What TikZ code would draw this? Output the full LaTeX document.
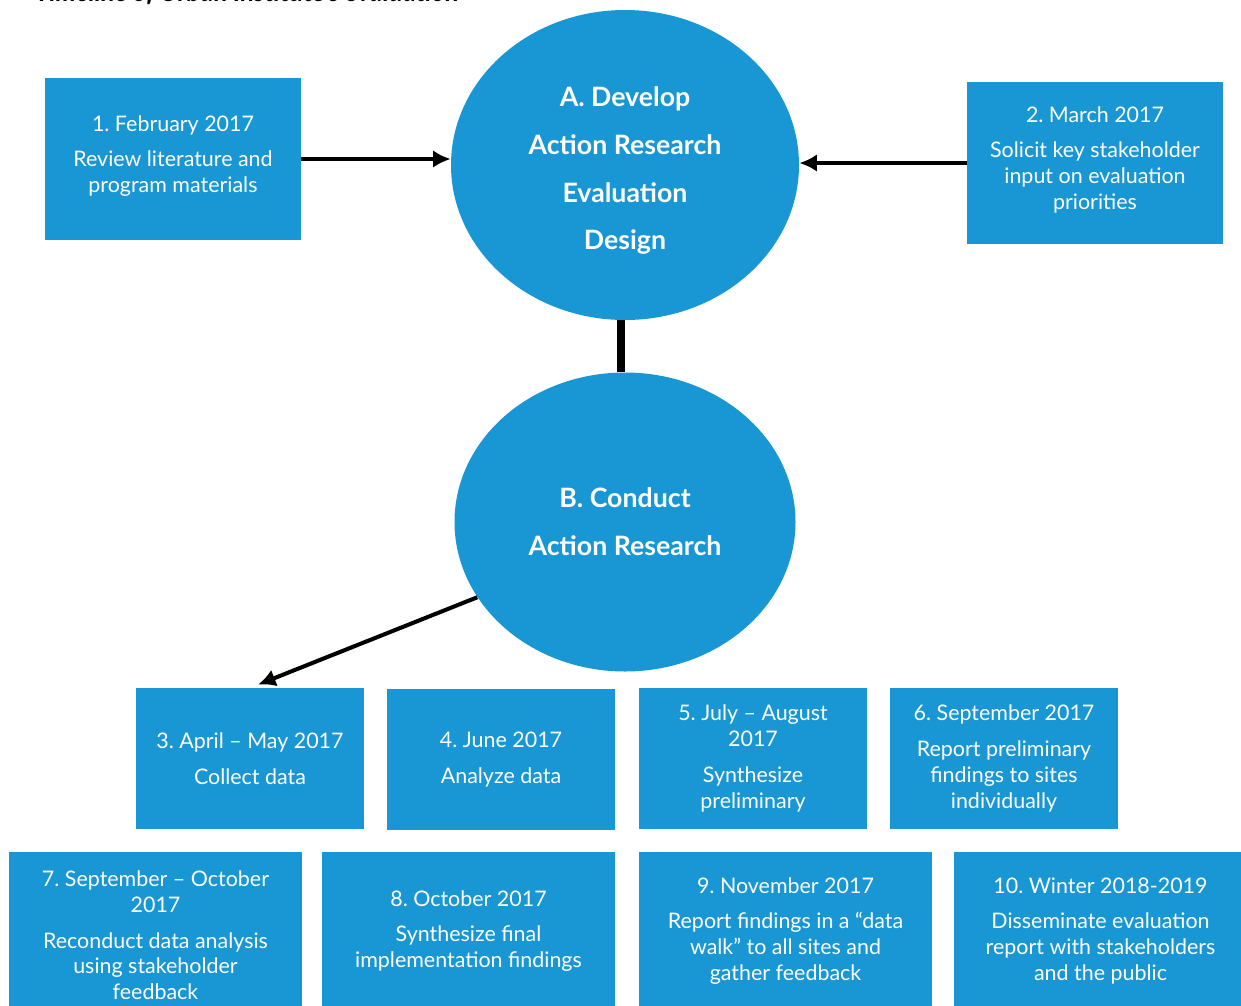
\documentclass[tikz,border=0pt]{standalone}
\usepackage{fontspec}
\setmainfont{Lato}
\frenchspacing
\usetikzlibrary{shapes,arrows.meta,positioning}
\definecolor{uiblue}{HTML}{1897D4}
\def \px {0.02cm}
\tikzstyle{stage} = [fill=uiblue,text=white,align=center,inner sep=0,font=\fontsize{12.2}{14.7}\selectfont]
\tikzstyle{toprow} = [stage,minimum width=256*\px,minimum height=162*\px]
\tikzstyle{midrow} = [stage,minimum width=228*\px,minimum height=141*\px]
\tikzstyle{lowrow} = [stage,minimum width=293*\px,minimum height=158*\px]
\tikzstyle{phase} = [ellipse,fill=uiblue,text=white,align=center,inner sep=0,font=\fontsize{15.2}{27.2}\selectfont\bfseries]
\tikzstyle{link} = [-{Latex[length=10pt,width=10pt]},line width=2.3pt]
\tikzstyle{joint} = [-,line width=4.5pt]

\begin{document}
\begin{tikzpicture}[x=\px,y=-\px]
      \useasboundingbox (0,0) rectangle (1241,1005);
      \clip (0,0) rectangle (1241,1005);
      \node[anchor=base west,inner sep=0,font=\fontsize{14.6}{16}\selectfont\itshape\bfseries] (title) at (35,1.5) {Timeline of Urban Institute’s evaluation};
      % design phase
      \node[phase,minimum width=348*\px,minimum height=310*\px] (design) at (625,165) {\rule{0pt}{17.8pt}A. Develop\\Action Research\\Evaluation\\Design};
      \node[toprow] (feb) at (173,159) {1. February 2017\\[5.5pt]Review literature and\\program materials\rule[-5.8pt]{0pt}{0pt}};
      \node[toprow] (mar) at (1095,163) {2. March 2017\\[5.5pt]Solicit key stakeholder\\input on evaluation\\priorities\rule[-5.8pt]{0pt}{0pt}};
      \draw[link] (feb.east) -- (feb.east -| design.west);
      \draw[link] (mar.west) -- (mar.west -| design.east);
      % conduct phase
      \node[phase,minimum width=341*\px,minimum height=299*\px] (conduct) at (625,522) {B. Conduct\\Action Research};
      \draw[joint] ([xshift=-4*\px]design.south) -- ([xshift=-4*\px]conduct.north);
      \node[midrow] (apr) at (250,758.5) {3. April -- May 2017\\[5.5pt]Collect data};
      \node[midrow] (jun) at (501,759.5) {4. June 2017\\[5.5pt]Analyze data};
      \node[midrow] (jul) at (753,758.5) {5. July -- August\\2017\\[5.5pt]Synthesize\\preliminary};
      \node[midrow] (sep) at (1004,758.5) {6. September 2017\\[5.5pt]Report preliminary\\findings to sites\\individually};
      \draw[link] (conduct.207) -- ([xshift=8*\px,yshift=3*\px]apr.north);
      \node[lowrow] (sepoct) at (155.5,931) {\rule{0pt}{14pt}7. September -- October\\2017\\[5.5pt]Reconduct data analysis\\using stakeholder\\feedback};
      \node[lowrow] (oct) at (468.5,931) {8. October 2017\\[5.5pt]Synthesize final\\implementation findings};
      \node[lowrow] (nov) at (785.5,931) {9. November 2017\\[5.5pt]Report findings in a “data\\walk” to all sites and\\gather feedback};
      \node[lowrow] (win) at (1100.5,931) {10. Winter 2018-2019\\[5.5pt]Disseminate evaluation\\report with stakeholders\\and the public};
    \end{tikzpicture}
\end{document}
